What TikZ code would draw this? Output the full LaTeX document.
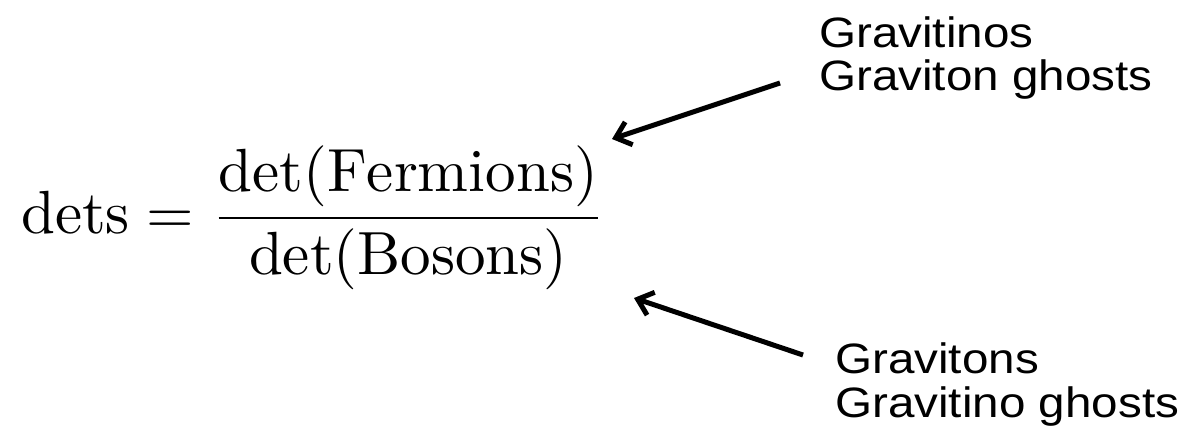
\documentclass[tikz,border=0pt]{standalone}
\usepackage{amsmath}
\usepackage{fontspec}
\newfontfamily\arialfont[FakeStretch=1.12]{Liberation Sans}
\usetikzlibrary{arrows.meta}
\tikzset{
  lab/.style={font=\arialfont\fontsize{42.5}{44}\selectfont, inner sep=0pt, anchor=base west},
  pointer/.style={line width=5pt, -{Straight Barb[length=14pt, width=24pt, line width=5pt]}},
}
\begin{document}
\begin{tikzpicture}[x=1pt,y=-1pt]
\useasboundingbox (0,0) rectangle (1186,440);
\node[anchor=base west, inner sep=0pt, scale=6.1] (eq) at (20,233)
  {$\mathrm{dets}=\dfrac{\det(\mathrm{Fermions})}{\det(\mathrm{Bosons})}$};
\node[lab] (t1) at (819,47) {Gravitinos};
\node[lab] (t2) at (819,90) {Graviton ghosts};
\node[lab] (b1) at (835,373) {Gravitons};
\node[lab] (b2) at (835,417) {Gravitino ghosts};
\coordinate (a1s) at (780,83);
\coordinate (a1e) at (612,139);
\coordinate (a2s) at (803,355);
\coordinate (a2e) at (634,298);
\draw[pointer] (a1s) -- (a1e);
\draw[pointer] (a2s) -- (a2e);
\end{tikzpicture}
\end{document}
